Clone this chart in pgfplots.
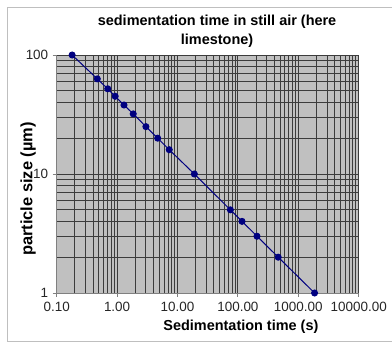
\documentclass[border=0pt]{standalone}
\usepackage{pgfplots}
\pgfplotsset{compat=1.18}
\usepackage{fontspec}
\setmainfont{Liberation Sans}
\definecolor{bggray}{RGB}{192,192,192}
\definecolor{gridc}{RGB}{60,60,60}
\definecolor{navy}{RGB}{0,0,128}
\begin{document}
\begin{tikzpicture}
\path[use as bounding box] (0,0) rectangle (392bp,343bp);
\draw[black!25, line width=0.8bp] (7bp,2bp) -- (7bp,336bp) -- (400bp,336bp);
\draw[black!25, line width=0.8bp] (7bp,2bp) -- (400bp,2bp);
\begin{axis}[
  at={(56.7bp,50bp)}, anchor=south west,
  scale only axis, width=302bp, height=238bp,
  xmode=log, ymode=log,
  xmin=0.1, xmax=10000, ymin=1, ymax=100,
  log basis x=10, log basis y=10,
  xtick={0.1,1,10,100,1000,10000},
  xticklabels={0.10,1.00,10.00,100.00,1000.00,10000.00},
  minor xtick={0.2,0.3,0.4,0.5,0.6,0.7,0.8,0.9,2,3,4,5,6,7,8,9,20,30,40,50,60,70,80,90,200,300,400,500,600,700,800,900,2000,3000,4000,5000,6000,7000,8000,9000},
  ytick={1,10,100},
  yticklabels={1,10,100},
  minor ytick={2,3,4,5,6,7,8,9,20,30,40,50,60,70,80,90},
  /pgf/number format/assume math mode=true,
  axis lines*=left,
  axis line style={black!50, line width=1bp, -},
  axis background/.style={fill=bggray},
  grid=both,
  major grid style={gridc, line width=0.9bp},
  minor grid style={gridc, line width=0.9bp},
  tick align=outside,
  major tick length=4bp,
  minor tick length=0pt,
  tick style={black!50, line width=0.8bp},
  ticklabel style={font=\fontsize{13.5}{14}\selectfont, text=black!85},
  xticklabel style={yshift=-2bp},
  yticklabel style={xshift=-1bp},
  title={sedimentation time in still air (here\\limestone)},
  title style={at={(0.531,1.073)}, anchor=center, align=center, font=\bfseries\fontsize{14.5}{19}\selectfont},
  xlabel={Sedimentation time (s)},
  xlabel style={at={(0.61,-0.143)}, anchor=center, font=\bfseries\fontsize{14.5}{16}\selectfont},
  ylabel={particle size (µm)},
  ylabel style={at={(-0.095,0.437)}, anchor=center, rotate=0, font=\bfseries\fontsize{16.5}{17}\selectfont},
  clip mode=individual,
]
\addplot[navy, line width=1bp, mark=*, mark size=3bp, mark options={fill=navy, draw=navy}] coordinates {
(0.18,100) (0.47,63) (0.70,52) (0.93,45) (1.3,38) (1.85,32) (3.0,25) (4.7,20) (7.3,16) (19,10) (75,5) (117,4) (207,3) (465,2) (1860,1)
};
\end{axis}
\end{tikzpicture}
\end{document}
